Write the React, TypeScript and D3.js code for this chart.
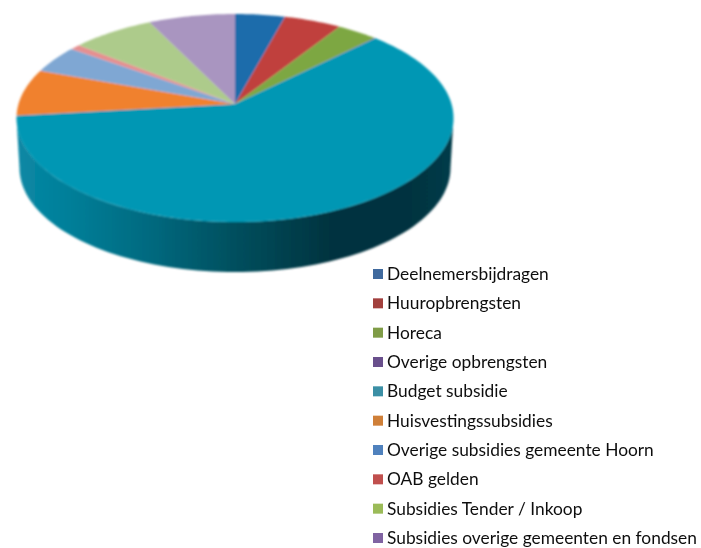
import * as d3 from 'd3';

const categories = [
  'Deelnemersbijdragen',
  'Huuropbrengsten',
  'Horeca',
  'Overige opbrengsten',
  'Budget subsidie',
  'Huisvestingssubsidies',
  'Overige subsidies gemeente Hoorn',
  'OAB gelden',
  'Subsidies Tender / Inkoop',
  'Subsidies overige gemeenten en fondsen',
];
const values = [4.25, 4.85, 3.45, 0.1, 60.6, 7.25, 4.3, 0.85, 7.0, 7.35];
const sliceColors = ['#1f6cab', '#c0403c', '#7da742', '#6a4c90', '#0097b4', '#f0812e', '#7fa7d3', '#e58f90', '#adcb8b', '#a995c0'];
const legendColors = ['#3f6a9e', '#a23f3e', '#7f9c47', '#69508c', '#3a8fa5', '#cf7f38', '#4f81bd', '#c0504d', '#9bbb59', '#8064a2'];

const width = 701;
const height = 548;

// top of the pie, the apex sits above the ellipse centre because of the 3D tilt
const cx = 235;
const cy = 118;
const rx = 218.5;
const ry = 104;
const apexY = 104;
const depth = 50;

// where a ray from the apex hits the rim
const rimPoint = (a: number): [number, number] => {
  const dx = Math.sin(a) * rx;
  const dy = -Math.cos(a) * ry;
  const oy = apexY - cy;
  const A = (dx * dx) / (rx * rx) + (dy * dy) / (ry * ry);
  const B = (2 * oy * dy) / (ry * ry);
  const C = (oy * oy) / (ry * ry) - 1;
  const t = (-B + Math.sqrt(B * B - 4 * A * C)) / (2 * A);
  return [cx + dx * t, apexY + dy * t];
};

const line = d3.line();

const pie = d3.pie<number>().sort(null);
const slices = pie(values);

const slicePath = (start: number, end: number) => {
  const n = Math.max(2, Math.ceil((end - start) / 0.02));
  const rim = d3.range(n + 1).map((i) => rimPoint(start + ((end - start) * i) / n));
  return line([[cx, apexY], ...rim]) + 'Z';
};

// side wall, from right rim round the front to the left rim
const wallPath = () => {
  const ts = d3.range(0, 181, 2).map((d) => (d * Math.PI) / 180);
  const top = ts.map((t): [number, number] => [cx + rx * Math.cos(t), cy + ry * Math.sin(t)]);
  const bottom = ts
    .map((t): [number, number] => [cx + (rx - 3) * Math.cos(t), cy + depth + ry * Math.sin(t)])
    .reverse();
  return line([...top, ...bottom]) + 'Z';
};

const wallStops: [number, string][] = [
  [0, '#0a88a5'],
  [0.12, '#007f99'],
  [0.3, '#006a80'],
  [0.5, '#004f5e'],
  [0.72, '#00333f'],
  [0.9, '#00333f'],
  [1, '#003c4a'],
];

const legendY = d3.scalePoint<string>().domain(categories).range([274, 538]);

export default function App() {
  return (
    <svg
      width={width}
      height={height}
      style={{ position: 'absolute', left: 0, top: 0, background: '#fff' }}
    >
      <defs>
        <linearGradient id="wall" x1="0" x2="1" y1="0" y2="0">
          {wallStops.map(([o, c]) => (
            <stop key={o} offset={o} stopColor={c} />
          ))}
        </linearGradient>
        <filter id="soft" x="-5%" y="-5%" width="110%" height="110%">
          <feGaussianBlur stdDeviation="0.8" />
        </filter>
        <filter id="softText" x="-5%" y="-20%" width="110%" height="140%">
          <feGaussianBlur stdDeviation="0.35" />
        </filter>
      </defs>

      <g filter="url(#soft)">
        <path d={wallPath()} fill="url(#wall)" />
        {slices.map((s, i) => (
          <path key={categories[i]} d={slicePath(s.startAngle, s.endAngle)} fill={sliceColors[i]} />
        ))}
      </g>

      <g filter="url(#softText)">
        {categories.map((c, i) => (
          <g key={c}>
            <rect x={373} y={legendY(c)! - 5} width={10} height={10} fill={legendColors[i]} />
            <text
              x={387}
              y={legendY(c)!}
              dy="0.35em"
              fontFamily="Lato, 'Open Sans', sans-serif"
              fontSize={17.35}
              fill="#111"
            >
              {c}
            </text>
          </g>
        ))}
      </g>
    </svg>
  );
}
